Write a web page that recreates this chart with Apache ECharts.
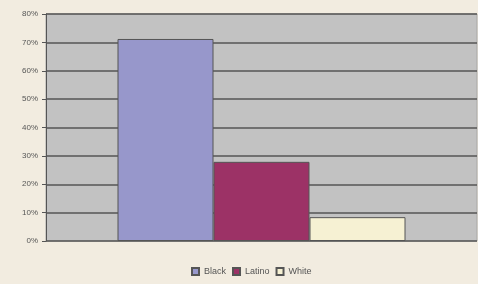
<!DOCTYPE html>
<html>
<head>
<meta charset="utf-8">
<script src="https://cdn.jsdelivr.net/npm/echarts@6/dist/echarts.min.js"></script>
<style>
  html, body { margin: 0; padding: 0; background: #f2ece0; }
  #chart { width: 478px; height: 284px; }
</style>
</head>
<body>
<div id="chart"></div>
<script>
var categories = [''];
var seriesNames = ['Black', 'Latino', 'White'];
var seriesValues = [[71.2], [27.9], [8.4]];
var seriesColors = ['#9797cb', '#9c3266', '#f6f1d3'];

var series = seriesNames.map(function (name, i) {
  return {
    name: name,
    type: 'bar',
    data: seriesValues[i],
    barWidth: 96,
    barGap: '0%',
    itemStyle: { color: seriesColors[i], borderColor: '#555', borderWidth: 1 }
  };
});

var myChart = echarts.init(document.getElementById('chart'));
myChart.setOption({
  backgroundColor: '#f2ece0',
  animation: false,
  grid: {
    left: 46, right: 1, top: 14, bottom: 43,
    show: true, backgroundColor: '#c2c2c2', borderColor: '#a8a8a8', borderWidth: 1
  },
  legend: {
    data: seriesNames,
    left: 186, bottom: 3,
    itemWidth: 7, itemHeight: 7, itemGap: 6,
    icon: 'rect',
    textStyle: { fontFamily: 'Liberation Sans', fontSize: 9, color: '#555' }
  },
  xAxis: {
    type: 'category',
    data: categories,
    axisLine: { show: false },
    axisTick: { show: false },
    axisLabel: { show: false }
  },
  yAxis: {
    type: 'value',
    min: 0, max: 80, interval: 10,
    axisLine: { show: true, lineStyle: { color: '#555' } },
    axisTick: { show: true, length: 4, lineStyle: { color: '#555' } },
    axisLabel: {
      formatter: '{value}%', fontFamily: 'Liberation Sans', fontSize: 8, color: '#555', margin: 8
    },
    splitLine: { lineStyle: { color: '#555', width: 1.5 } }
  },
  series: series
});
</script>
</body>
</html>
